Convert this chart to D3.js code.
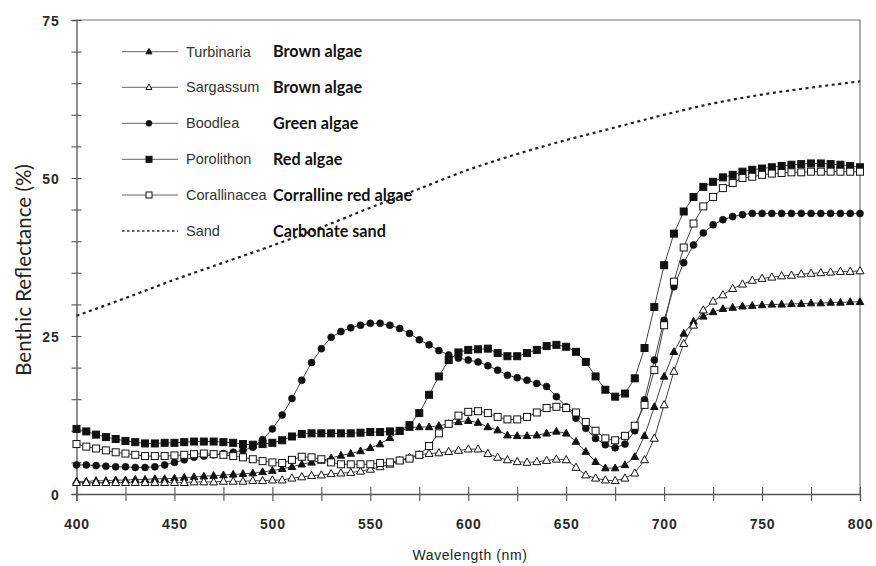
<!DOCTYPE html>
<html>
<head>
<meta charset="utf-8">
<script src="https://cdn.jsdelivr.net/npm/d3@7"></script>
<style>
  body { margin: 0; background: #fff; }
  svg { display: block; }
</style>
</head>
<body>
<svg id="chart" width="876" height="566"></svg>
<script>
// Wavelength grid of the measured spectra (nm)
const wavelengths = [
  400,405,410,415,420,425,430,435,440,445,450,455,460,465,470,475,480,485,490,495,
  500,505,510,515,520,525,530,535,540,545,550,555,560,565,570,575,580,585,590,595,
  600,605,610,615,620,625,630,635,640,645,650,655,660,665,670,675,680,685,690,695,
  700,705,710,715,720,725,730,735,740,745,750,755,760,765,770,775,780,785,790,795,800
];

// Benthic reflectance (%) per species, one value per wavelength above
const turbinaria = [
  2.0,2.0,2.1,2.1,2.2,2.2,2.3,2.3,2.4,2.4,2.5,2.6,2.7,2.8,2.9,3.0,3.1,3.2,3.3,3.5,
  3.7,4.0,4.3,4.7,5.0,5.3,5.7,6.1,6.4,6.8,7.3,7.9,8.9,9.9,10.5,10.6,10.6,10.8,11.1,11.4,
  11.6,11.3,10.6,10.1,9.3,9.2,9.2,9.3,9.6,9.9,9.6,8.3,6.7,5.1,4.1,4.1,4.6,5.9,9.2,13.8,
  18.6,22.5,25.4,27.3,28.1,28.8,29.3,29.5,29.7,29.8,29.9,30.0,30.0,30.1,30.1,30.2,30.2,30.3,30.3,30.4,30.4
];
const sargassum = [
  1.8,1.8,1.8,1.8,1.8,1.8,1.8,1.8,1.8,1.8,1.8,1.8,1.9,1.9,1.9,2.0,2.0,2.0,2.1,2.1,
  2.2,2.2,2.5,2.7,2.9,3.0,3.2,3.3,3.4,3.6,3.9,4.3,4.7,5.3,5.8,6.2,6.4,6.5,6.7,6.9,
  7.1,7.1,6.4,5.8,5.4,5.1,5.0,5.1,5.3,5.5,5.4,4.2,3.0,2.5,2.2,2.1,2.5,3.3,5.4,8.8,
  14.1,19.4,23.8,26.7,29.1,30.5,31.5,32.5,33.2,33.8,34.1,34.3,34.5,34.6,34.8,34.9,35.0,35.1,35.2,35.2,35.3
];
const boodlea = [
  4.6,4.6,4.5,4.4,4.3,4.3,4.2,4.2,4.3,4.6,5.0,5.4,5.8,6.0,6.2,6.4,6.6,6.9,7.4,8.6,
  10.3,12.5,15.1,18.0,20.8,23.0,24.8,25.7,26.3,26.7,27.0,27.0,26.7,26.2,25.4,24.4,23.6,22.7,22.0,21.5,
  21.2,20.9,20.3,19.6,18.8,18.4,18.0,17.5,17.0,15.4,13.8,12.0,10.4,8.8,7.8,7.3,7.9,10.0,14.9,21.2,
  27.5,32.8,36.6,39.4,41.3,42.6,43.4,43.9,44.2,44.4,44.4,44.4,44.4,44.4,44.4,44.4,44.4,44.4,44.4,44.4,44.4
];
const porolithon = [
  10.3,9.9,9.4,9.0,8.7,8.4,8.2,8.0,8.0,8.1,8.1,8.2,8.3,8.3,8.3,8.2,8.1,7.9,7.8,7.9,
  8.1,8.5,9.1,9.5,9.6,9.6,9.6,9.6,9.6,9.7,9.8,9.8,9.9,10.0,10.9,12.8,15.7,18.6,21.2,22.4,
  22.8,22.9,23.0,22.3,21.8,21.8,22.3,22.8,23.4,23.6,23.3,22.5,20.9,18.6,16.5,15.4,15.9,18.3,23.1,29.6,
  36.2,41.2,44.7,47.0,48.6,49.4,50.1,50.5,51.0,51.3,51.5,51.7,51.9,52.1,52.2,52.3,52.3,52.2,52.1,51.9,51.7
];
const corallinacea = [
  7.9,7.5,7.2,6.9,6.6,6.4,6.2,6.0,6.0,6.0,6.1,6.2,6.3,6.4,6.3,6.2,6.0,5.8,5.5,5.2,
  5.0,4.9,5.4,5.9,5.8,5.5,5.0,4.7,4.7,4.7,4.7,4.9,5.0,5.3,5.6,6.2,7.6,9.6,11.1,12.4,
  13.0,13.1,12.8,12.2,11.8,11.8,12.2,12.9,13.6,13.8,13.6,12.9,11.4,10.0,8.8,8.5,9.2,10.8,14.1,19.6,
  26.7,33.6,39.0,42.8,45.5,47.0,48.4,49.2,50.0,50.2,50.5,50.7,50.8,50.9,50.9,51.0,51.0,51.0,51.0,51.0,51.0
];

// Carbonate sand spectrum (dotted curve)
const sandWavelengths = [400,425,450,475,500,525,550,575,600,625,650,675,700,725,750,775,800];
const sand = [28.2,31.0,33.9,36.6,39.3,42.2,45.3,48.3,51.3,53.8,56.0,58.0,60.0,61.8,63.2,64.3,65.3];

// Legend entries
const speciesNames = ["Turbinaria","Sargassum","Boodlea","Porolithon","Corallinacea","Sand"];
const groupNames = ["Brown algae","Brown algae","Green algae","Red algae","Corralline red algae","Carbonate sand"];
const markerTypes = ["triFilled","triOpen","circleFilled","squareFilled","squareOpen","dotted"];

// Axis ticks
const xMinorTicks = [400,425,450,475,500,525,550,575,600,625,650,675,700,725,750,775,800];
const xTickLabels = [400,450,500,550,600,650,700,750,800];
const yMinorTicks = [0,5,10,15,20,25,30,35,40,45,50,55,60,65,70,75];
const yTickLabels = [0,25,50,75];

const svg = d3.select("#chart");
const plotLeft = 76.5, plotRight = 860, plotTop = 20, plotBottom = 494;
const x = d3.scaleLinear().domain([400, 800]).range([plotLeft, plotRight]);
const y = d3.scaleLinear().domain([0, 75]).range([plotBottom, plotTop]);

const axisColor = "#555";
const tickFont = "'Liberation Sans', Arial, sans-serif";

// Frame (top and right edges)
svg.append("path")
  .attr("d", `M${plotLeft},${plotTop}H${plotRight}V${plotBottom}`)
  .attr("fill", "none").attr("stroke", "#777").attr("stroke-width", 1.2);

// X axis
const gx = svg.append("g").attr("transform", `translate(0,${plotBottom})`)
  .call(d3.axisBottom(x).tickValues(xMinorTicks).tickSize(7).tickPadding(0)
    .tickFormat(d => xTickLabels.includes(d) ? d : ""));
gx.select(".domain").attr("stroke", axisColor).attr("stroke-width", 1.3);
gx.selectAll(".tick line").attr("y1", -7).attr("y2", 7).attr("stroke", axisColor).attr("stroke-width", 1.1);
gx.selectAll(".tick text").attr("y", 25).attr("dy", "0.71em")
  .attr("font-family", tickFont).attr("font-size", 14).attr("font-weight", "bold")
  .attr("fill", "#2a2a2a").attr("letter-spacing", 0.8);

// Y axis
const gy = svg.append("g").attr("transform", `translate(${plotLeft},0)`)
  .call(d3.axisLeft(y).tickValues(yMinorTicks).tickSize(5).tickPadding(0)
    .tickFormat(d => yTickLabels.includes(d) ? d : ""));
gy.select(".domain").attr("stroke", axisColor).attr("stroke-width", 1.3);
gy.selectAll(".tick line").attr("x1", -5).attr("x2", 5).attr("stroke", axisColor).attr("stroke-width", 1.1);
gy.selectAll(".tick text").attr("x", -17).attr("dy", "0.36em")
  .attr("font-family", tickFont).attr("font-size", 14).attr("font-weight", "bold")
  .attr("fill", "#2a2a2a").attr("letter-spacing", 0.8);

// Axis titles
svg.append("text")
  .attr("transform", "translate(31,270) rotate(-90)")
  .attr("text-anchor", "middle")
  .attr("font-family", "Lato, 'Open Sans', sans-serif").attr("font-size", 20.5)
  .attr("fill", "#222")
  .text("Benthic Reflectance (%)");
svg.append("text")
  .attr("x", 470).attr("y", 560)
  .attr("text-anchor", "middle")
  .attr("font-family", tickFont).attr("font-size", 14)
  .attr("fill", "#222").attr("letter-spacing", 0.6)
  .text("Wavelength (nm)");

// Marker drawing helper
function drawMarker(sel, type, size) {
  const s = size;
  if (type === "triFilled" || type === "triOpen") {
    const h = s * 0.9;
    sel.append("path")
      .attr("d", `M0,${-h * 0.6}L${s / 2},${h * 0.4}L${-s / 2},${h * 0.4}Z`)
      .attr("fill", type === "triFilled" ? "#111" : "#fff")
      .attr("stroke", "#111").attr("stroke-width", 1);
  } else if (type === "circleFilled") {
    sel.append("circle").attr("r", s / 2).attr("fill", "#111").attr("stroke", "#111").attr("stroke-width", 0.6);
  } else if (type === "squareFilled" || type === "squareOpen") {
    sel.append("rect").attr("x", -s / 2).attr("y", -s / 2).attr("width", s).attr("height", s)
      .attr("fill", type === "squareFilled" ? "#111" : "#fff")
      .attr("stroke", "#111").attr("stroke-width", 1);
  }
}

const line = d3.line().x(d => x(d[0])).y(d => y(d[1]));

// Sand curve
svg.append("path")
  .datum(sandWavelengths.map((w, i) => [w, sand[i]]))
  .attr("d", line.curve(d3.curveMonotoneX))
  .attr("fill", "none").attr("stroke", "#222").attr("stroke-width", 2.2)
  .attr("stroke-dasharray", "3,3.6");
line.curve(d3.curveLinear);

// Algae spectra
const series = [
  { values: turbinaria, marker: "triFilled", size: 7.5 },
  { values: sargassum, marker: "triOpen", size: 8 },
  { values: boodlea, marker: "circleFilled", size: 7 },
  { values: porolithon, marker: "squareFilled", size: 7 },
  { values: corallinacea, marker: "squareOpen", size: 7 }
];

series.forEach(s => {
  const pts = wavelengths.map((w, i) => [w, s.values[i]]);
  svg.append("path").datum(pts).attr("d", line)
    .attr("fill", "none").attr("stroke", "#444").attr("stroke-width", 1);
});
series.forEach(s => {
  const pts = wavelengths.map((w, i) => [w, s.values[i]]);
  svg.append("g").selectAll("g").data(pts).join("g")
    .attr("transform", d => `translate(${x(d[0])},${y(d[1])})`)
    .each(function () { drawMarker(d3.select(this), s.marker, s.size); });
});

// Legend
const legendRows = [51.7, 87.3, 123.3, 159.3, 195, 231];
const legend = svg.append("g");
speciesNames.forEach((name, i) => {
  const cy = legendRows[i];
  const row = legend.append("g").attr("transform", `translate(0,${cy})`);
  if (markerTypes[i] === "dotted") {
    row.append("line").attr("x1", 122).attr("x2", 178).attr("y1", 0).attr("y2", 0)
      .attr("stroke", "#333").attr("stroke-width", 1.4).attr("stroke-dasharray", "2.5,2.5");
  } else {
    row.append("line").attr("x1", 122).attr("x2", 178).attr("y1", 0).attr("y2", 0)
      .attr("stroke", "#666").attr("stroke-width", 1);
    const m = row.append("g").attr("transform", "translate(149,0)");
    drawMarker(m, markerTypes[i], 6);
  }
  row.append("text").attr("x", 186).attr("y", 5)
    .attr("font-family", tickFont).attr("font-size", 14.5).attr("fill", "#333")
    .text(name);
  row.append("text").attr("x", 273).attr("y", 5.5)
    .attr("font-family", "Lato, 'Open Sans', sans-serif").attr("font-weight", "bold")
    .attr("font-size", 16.2).attr("fill", "#111")
    .text(groupNames[i]);
});
</script>
</body>
</html>
